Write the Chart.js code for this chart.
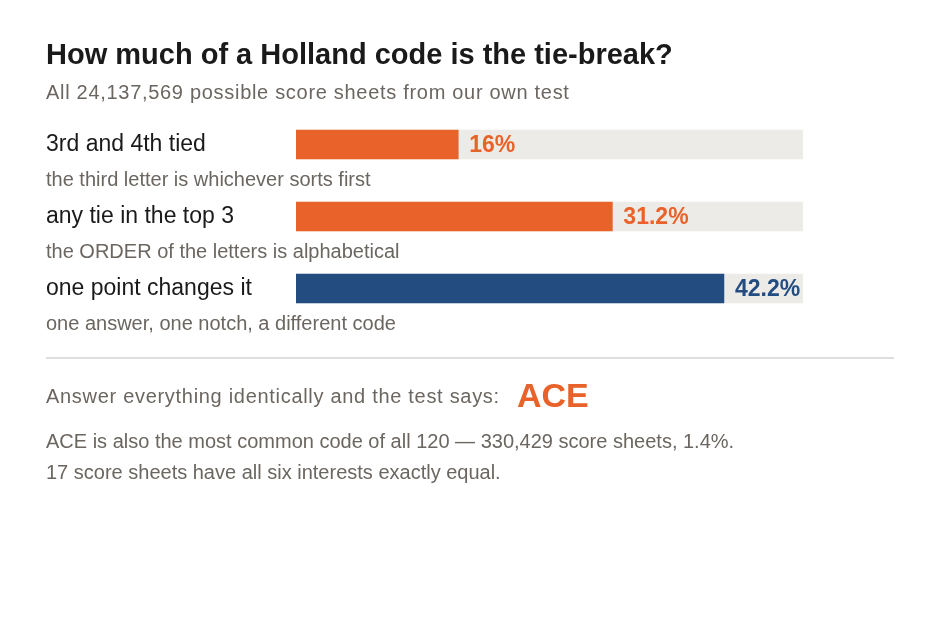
<!DOCTYPE html>
<html>
<head>
<meta charset="utf-8">
<script src="https://cdn.jsdelivr.net/npm/chart.js@4/dist/chart.umd.min.js"></script>
<style>
  html, body { margin: 0; padding: 0; background: #fff; }
  body { width: 940px; height: 620px; position: relative; overflow: hidden;
         font-family: "Liberation Sans", Arial, sans-serif; }
  #wrap { position: absolute; left: 0; top: 0; width: 940px; height: 620px; }
  .txt { position: absolute; left: 46px; white-space: nowrap; line-height: 1; }
  #title { top: 40px; font-size: 29px; font-weight: bold; color: #1a1a1a; }
  #sub { top: 81.5px; font-size: 20px; letter-spacing: 0.7px; color: #6b6660; }
  #rule { position: absolute; left: 46px; top: 357px; width: 848px; height: 2px; background: #dedede; }
  #answer { top: 386px; font-size: 20px; letter-spacing: 0.7px; color: #6b6660; }
  #ace { left: 517px; top: 378px; font-size: 34px; font-weight: bold; color: #e9622a; }
  #note1 { top: 431px; font-size: 20px; color: #6b6660; }
  #note2 { top: 462px; font-size: 20px; color: #6b6660; }
</style>
</head>
<body>
<div id="wrap"><canvas id="tieChart" width="940" height="620"></canvas></div>
<div class="txt" id="title">How much of a Holland code is the tie-break?</div>
<div class="txt" id="sub">All 24,137,569 possible score sheets from our own test</div>
<div id="rule"></div>
<div class="txt" id="answer">Answer everything identically and the test says:</div>
<div class="txt" id="ace">ACE</div>
<div class="txt" id="note1">ACE is also the most common code of all 120 — 330,429 score sheets, 1.4%.</div>
<div class="txt" id="note2">17 score sheets have all six interests exactly equal.</div>
<script>
const categories = ["3rd and 4th tied", "any tie in the top 3", "one point changes it"];
const notes = [
    "the third letter is whichever sorts first",
    "the ORDER of the letters is alphabetical",
    "one answer, one notch, a different code"
];
const shares = [16, 31.2, 42.2];
const shareLabels = ["16%", "31.2%", "42.2%"];
const trackMax = [50, 50, 50];
const barColors = ["#e9622a", "#e9622a", "#234c80"];

const FONT = '"Liberation Sans", Arial, sans-serif';

// row label above-left, note underneath, value just past the bar end
const rowText = {
    id: "rowText",
    afterDatasetsDraw(chart) {
        const ctx = chart.ctx;
        const yScale = chart.scales.y;
        const meta = chart.getDatasetMeta(0);
        ctx.save();
        ctx.textBaseline = "alphabetic";
        ctx.textAlign = "left";
        categories.forEach((cat, i) => {
            const y = yScale.getPixelForValue(i);
            ctx.fillStyle = "#1a1a1a";
            ctx.font = "23px " + FONT;
            ctx.fillText(cat, 46, y + 6);
            ctx.fillStyle = "#6b6660";
            ctx.font = "20px " + FONT;
            ctx.fillText(notes[i], 46, y + 41);

            const bar = meta.data[i];
            ctx.fillStyle = barColors[i];
            ctx.font = "bold 23px " + FONT;
            ctx.fillText(shareLabels[i], bar.x + 11, y + 7.5);
        });
        ctx.restore();
    }
};

new Chart(document.getElementById("tieChart"), {
    type: "bar",
    data: {
        labels: categories,
        datasets: [
            { data: shares, backgroundColor: barColors, order: 0, grouped: false, barThickness: 29 },
            { data: trackMax, backgroundColor: "#edebe7", order: 1, grouped: false, barThickness: 29 }
        ]
    },
    options: {
        indexAxis: "y",
        responsive: false,
        animation: false,
        events: [],
        layout: { padding: { left: 296, right: 137, top: 108.5, bottom: 295.5 } },
        scales: {
            x: { display: false, min: 0, max: 50 },
            y: { display: false }
        },
        plugins: {
            legend: { display: false },
            tooltip: { enabled: false }
        }
    },
    plugins: [rowText]
});
</script>
</body>
</html>
